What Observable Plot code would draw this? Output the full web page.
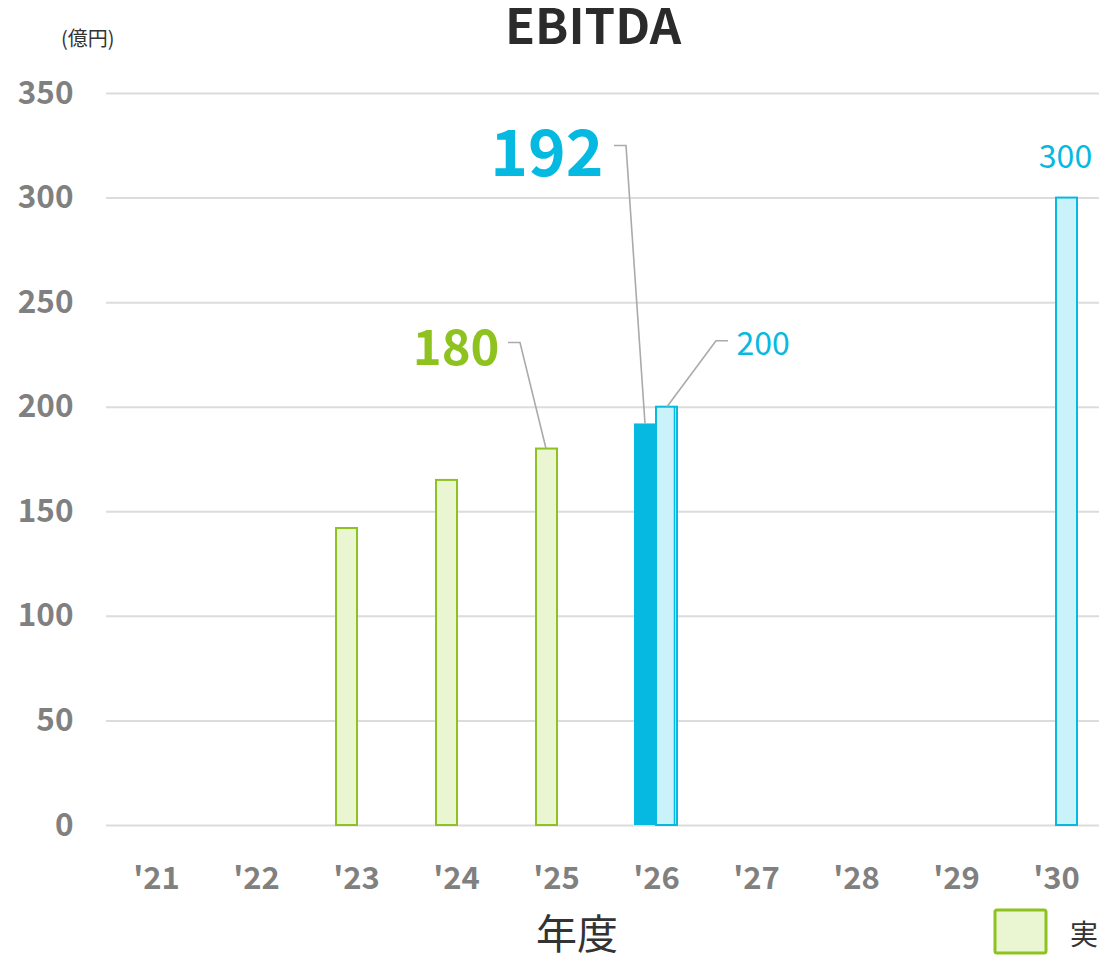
<!DOCTYPE html>
<html>
<head>
<meta charset="utf-8">
<script src="https://cdn.jsdelivr.net/npm/d3@7"></script>
<script src="https://cdn.jsdelivr.net/npm/@observablehq/plot@0.6"></script>
<style>
  html, body { margin: 0; padding: 0; background: #fff; }
  #chart { width: 1099px; height: 956px; }
</style>
</head>
<body>
<div id="chart"></div>
<script>
// ---- data ----
const yearLabels = ["'21", "'22", "'23", "'24", "'25", "'26", "'27", "'28", "'29", "'30"];
const yTicks = [0, 50, 100, 150, 200, 250, 300, 350];

const actualYears = ["'23", "'24", "'25"];
const actualValues = [142, 165, 180];

const forecastYears = ["'26"];
const forecastValues = [192];

const planYears = ["'26", "'30"];
const planValues = [200, 300];

const titleText = "EBITDA";
const unitText = "(億円)";
const xAxisLabel = "年度";
const legendLabel = "実";

// ---- tables ----
const actual = actualYears.map((year, i) => ({year, value: actualValues[i]}));
const forecast = forecastYears.map((year, i) => ({year, value: forecastValues[i]}));
const plan = planYears.map((year, i) => ({year, value: planValues[i]}));

// ---- styles ----
const FONT = "'Noto Sans CJK JP', 'Noto Sans', sans-serif";
const GREEN = "#8dc21f";
const GREEN_FILL = "#e9f6d1";
const CYAN = "#06b9e1";
const CYAN_FILL = "#c9f2fb";
const GRAY_TEXT = "#808080";
const LEADER = "#aaaaaa";

const W = 1099, H = 956;

const plot = Plot.plot({
  width: W,
  height: H,
  marginLeft: 106,
  marginRight: 0,
  marginTop: 93,
  marginBottom: 131,
  style: {fontFamily: FONT, background: "#fff"},
  x: {type: "band", domain: yearLabels, range: [106, 1106], padding: 0, label: null},
  y: {domain: [0, 350], label: null},
  marks: [
    Plot.gridY(yTicks, {stroke: "#dcdcdc", strokeOpacity: 1, strokeWidth: 2}),
    Plot.axisY(yTicks, {tickSize: 0, tickPadding: 33, fontSize: 31.5, fontWeight: "bold", fill: GRAY_TEXT, label: null}),
    Plot.axisX({tickSize: 0, tickPadding: 41, fontSize: 31, fontWeight: "bold", fill: GRAY_TEXT, label: null}),
    Plot.barY(actual, {x: "year", y: "value", fill: GREEN_FILL, stroke: GREEN, strokeWidth: 2, insetLeft: 30, insetRight: 49}),
    Plot.barY(forecast, {x: "year", y: "value", fill: CYAN, insetLeft: 28, insetRight: 50}),
    Plot.barY(plan, {x: "year", y: "value", fill: CYAN_FILL, stroke: CYAN, strokeWidth: 2, insetLeft: 50, insetRight: 29}),
    Plot.ruleX(plan.filter(d => d.year === "'26"), {x: "year", y1: 0, y2: "value", stroke: CYAN, strokeWidth: 1.5, dx: 18}),
    // value labels
    Plot.text(actual.filter(d => d.year === "'25"), {x: "year", y: "value", text: d => String(d.value), textAnchor: "end", lineAnchor: "bottom", dx: -57, dy: -84, fontSize: 49, fontWeight: "bold", fill: GREEN}),
    Plot.text(forecast, {x: "year", y: "value", text: d => String(d.value), textAnchor: "end", lineAnchor: "bottom", dx: -53, dy: -248, fontSize: 64, fontWeight: "bold", fill: CYAN}),
    Plot.text(plan.filter(d => d.year === "'26"), {x: "year", y: "value", text: d => String(d.value), textAnchor: "start", lineAnchor: "bottom", dx: 80, dy: -52, fontSize: 32, fill: CYAN}),
    Plot.text(plan.filter(d => d.year === "'30"), {x: "year", y: "value", text: d => String(d.value), textAnchor: "middle", lineAnchor: "bottom", dx: 9, dy: -30, fontSize: 32, fill: CYAN})
  ]
});

document.getElementById("chart").appendChild(plot);

// ---- leader lines via the plot's own scales ----
const xs = plot.scale("x");
const ys = plot.scale("y");
const leaders = [
  {year: "'25", value: 180, offsets: [[-10, 0], [-36, -106], [-48, -106]]},
  {year: "'26", value: 192, offsets: [[-11, 0], [-30, -278], [-42, -278]]},
  {year: "'26", value: 200, offsets: [[11, 0], [60, -66], [72, -66]]}
];
const svg = d3.select(plot);
const line = d3.line();
for (const l of leaders) {
  const cx = xs.apply(l.year) + xs.bandwidth / 2;
  const cy = ys.apply(l.value);
  svg.append("path")
    .attr("d", line(l.offsets.map(([dx, dy]) => [cx + dx, cy + dy])))
    .attr("fill", "none")
    .attr("stroke", LEADER)
    .attr("stroke-width", 1.6);
}

// ---- titles, unit, axis label, legend ----
svg.append("text").text(titleText)
  .attr("x", 593).attr("y", 44).attr("text-anchor", "middle")
  .attr("font-family", FONT).attr("font-size", 49).attr("font-weight", "bold").attr("fill", "#2b2b2b");
svg.append("text").text(unitText)
  .attr("x", 61).attr("y", 46).attr("text-anchor", "start")
  .attr("font-family", FONT).attr("font-size", 20).attr("fill", "#333");
svg.append("text").text(xAxisLabel)
  .attr("x", 577).attr("y", 949).attr("text-anchor", "middle")
  .attr("font-family", FONT).attr("font-size", 41).attr("fill", "#333");
svg.append("rect")
  .attr("x", 995).attr("y", 910).attr("width", 51).attr("height", 43).attr("rx", 2)
  .attr("fill", GREEN_FILL).attr("stroke", GREEN).attr("stroke-width", 3);
svg.append("text").text(legendLabel)
  .attr("x", 1070).attr("y", 945).attr("text-anchor", "start")
  .attr("font-family", FONT).attr("font-size", 28).attr("fill", "#333");
</script>
</body>
</html>
